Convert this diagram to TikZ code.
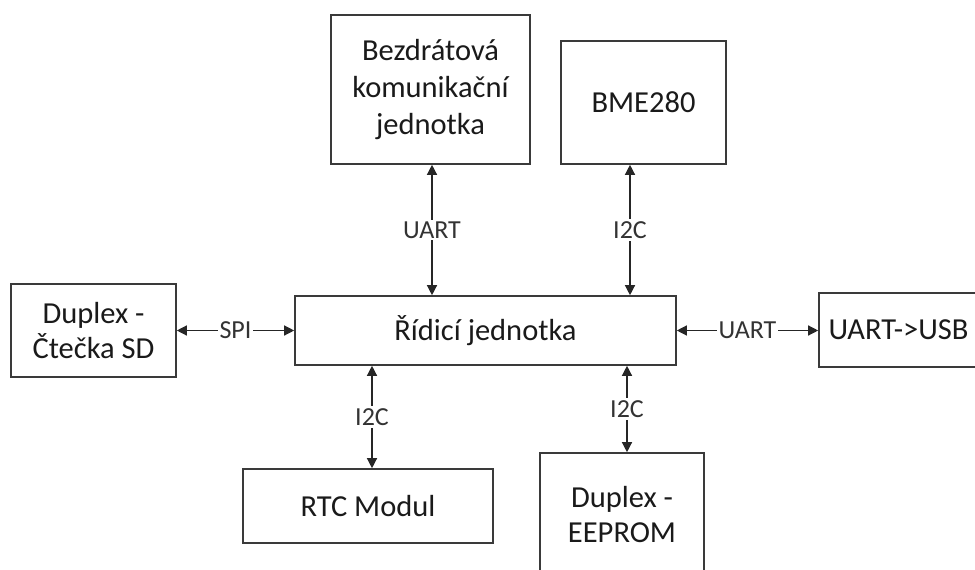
\documentclass[tikz,border=0pt]{standalone}
\usepackage{fontspec}
\setmainfont{Carlito}
\usetikzlibrary{arrows.meta}
\definecolor{boxline}{HTML}{3A3A3A}
\definecolor{txt}{HTML}{1A1A1A}
\definecolor{lbltxt}{HTML}{333333}
\begin{document}
\begin{tikzpicture}[x=1pt,y=-1pt,
  blk/.style={draw=boxline, line width=1.6pt, fill=white, align=center,
    inner sep=0pt, text=txt, font=\fontsize{30.5}{37}\selectfont},
  link/.style={draw=black!85, line width=1.3pt,
    {Triangle[length=10pt,width=10pt]}-{Triangle[length=10pt,width=10pt]}},
  lbl/.style={fill=white, inner sep=2pt, text=lbltxt,
    font=\fontsize{26}{30}\selectfont}]
\useasboundingbox (0,0) rectangle (975,570);
\clip (0,0) rectangle (975,570);

% blocks
\node[blk, minimum width=199pt, minimum height=149pt] (wifi) at (430.5,89.5)
  {Bezdrátová\\komunikační\\jednotka};
\node[blk, minimum width=165pt, minimum height=123pt] (bme) at (643.5,102.5)
  {BME280};
\node[blk, minimum width=381pt, minimum height=69pt] (mcu) at (485.5,330.5)
  {Řídicí jednotka};
\node[blk, minimum width=159pt, minimum height=74pt] (usb) at (898.5,330)
  {UART->USB};
\node[blk, minimum width=165pt, minimum height=93pt,
  font=\fontsize{30.5}{35}\selectfont] (sd) at (93.5,330.5)
  {Duplex -\\Čtečka SD};
\node[blk, minimum width=250pt, minimum height=74pt] (rtc) at (368,506)
  {RTC Modul};
\node[blk, minimum width=164pt, minimum height=124pt,
  font=\fontsize{30.5}{35}\selectfont] (eep) at (622,515)
  {Duplex -\\EEPROM};

% buses
\draw[link] ([xshift=1.5pt]wifi.south) -- ([xshift=1.5pt]wifi.south |- mcu.north)
  node[lbl, midway] {UART};
\draw[link] ([xshift=-13.5pt]bme.south) -- ([xshift=-13.5pt]bme.south |- mcu.north)
  node[lbl, midway] {I2C};
\draw[link] (sd.east) -- (sd.east -| mcu.west)
  node[lbl, midway] {SPI};
\draw[link] (mcu.east) -- (mcu.east -| usb.west)
  node[lbl, midway] {UART};
\draw[link] ([xshift=4pt]mcu.south -| rtc.north) -- ([xshift=4pt]rtc.north)
  node[lbl, midway] {I2C};
\draw[link] ([xshift=5pt]mcu.south -| eep.north) -- ([xshift=5pt]eep.north)
  node[lbl, midway] {I2C};
\end{tikzpicture}
\end{document}
